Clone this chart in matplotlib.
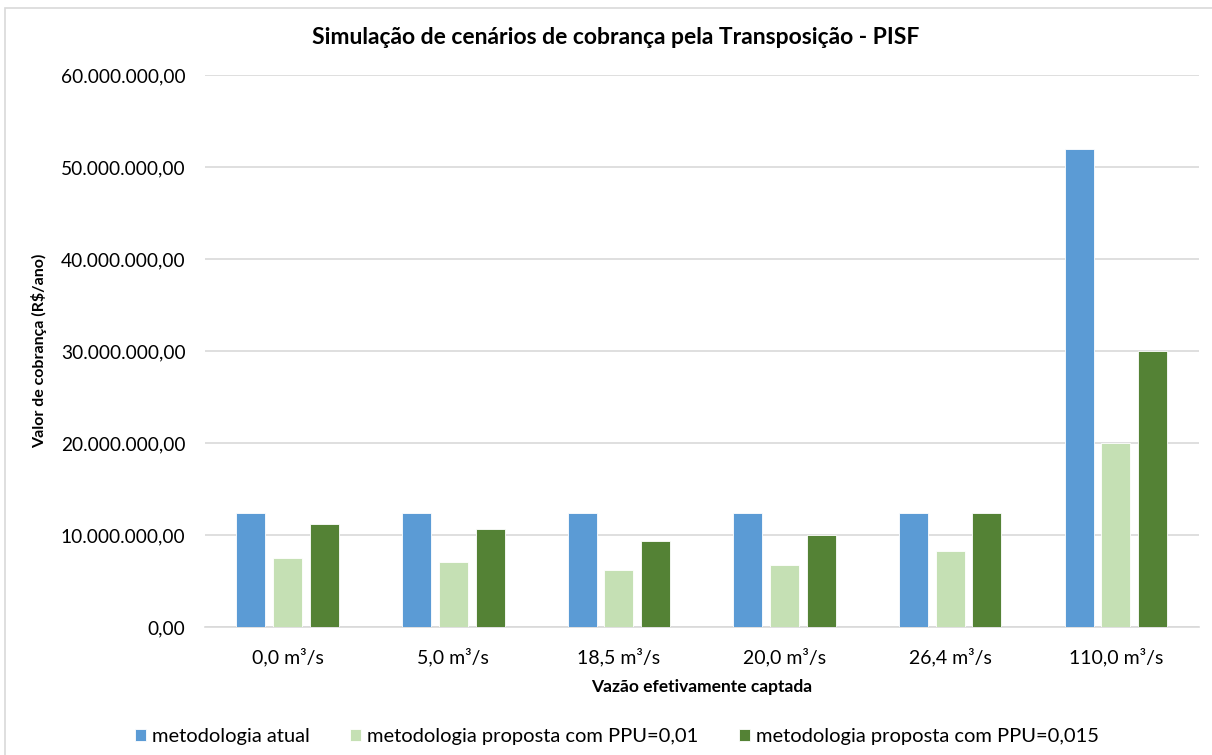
import numpy as np
import matplotlib.pyplot as plt
from matplotlib.ticker import FuncFormatter
from matplotlib.patches import Rectangle

categories = ["0,0 m³/s", "5,0 m³/s", "18,5 m³/s", "20,0 m³/s", "26,4 m³/s", "110,0 m³/s"]
atual = [12.4e6, 12.4e6, 12.4e6, 12.4e6, 12.4e6, 51.9e6]
ppu_001 = [7.45e6, 7.1e6, 6.25e6, 6.7e6, 8.3e6, 20.0e6]
ppu_0015 = [11.25e6, 10.7e6, 9.4e6, 10.05e6, 12.4e6, 30.0e6]
series_names = ["metodologia atual",
                "metodologia proposta com PPU=0,01",
                "metodologia proposta com PPU=0,015"]
colors = ["#5B9BD5", "#C5E0B4", "#548235"]

plt.rcParams['font.family'] = ['Lato', 'DejaVu Sans']


def br_fmt(v, pos):
    s = f"{v:,.2f}"
    return s.replace(",", "X").replace(".", ",").replace("X", ".")


fig = plt.figure(figsize=(12.12, 7.55), dpi=100)
ax = fig.add_axes([0.169, 0.1695, 0.82, 0.7312])

x = np.arange(len(categories))
w = 0.175
step = 0.222
for i, (vals, name) in enumerate(zip([atual, ppu_001, ppu_0015], series_names)):
    ax.bar(x + (i - 1) * step, vals, width=w, color=colors[i], label=name,
           edgecolor='white', linewidth=0.6, zorder=3)

ax.set_xlim(-0.5, len(categories) - 0.5)
ax.set_ylim(0, 60e6)
ax.set_yticks(np.arange(0, 60e6 + 1, 10e6))
ax.yaxis.set_major_formatter(FuncFormatter(br_fmt))
ax.grid(axis='y', color='#d9d9d9', linewidth=1.2, zorder=0)
ax.set_xticks(x)
ax.set_xticklabels(categories)
ax.tick_params(axis='both', length=0, colors='#000000')
ax.tick_params(axis='x', pad=15, labelsize=14)
ax.tick_params(axis='y', pad=14, labelsize=13.8)
for s in ['top', 'right', 'left']:
    ax.spines[s].set_visible(False)
ax.spines['bottom'].set_color('#d9d9d9')
ax.spines['bottom'].set_linewidth(1.2)

ax.set_xlabel("Vazão efetivamente captada", fontsize=12.5, fontweight='bold', labelpad=9)
ax.set_ylabel("Valor de cobrança (R$/ano)", fontsize=11.5, fontweight='bold')
ax.yaxis.set_label_coords(-0.159, 0.5)

fig.text(0.508, 0.95, "Simulação de cenários de cobrança pela Transposição - PISF",
         ha='center', va='center', fontsize=16.5, fontweight='bold')

fig.legend(loc='center', bbox_to_anchor=(0.509, 0.024), ncol=3, frameon=False,
           fontsize=14.5, handlelength=0.55, handleheight=0.55, columnspacing=2.0,
           handletextpad=0.3)

fig.patches.append(Rectangle((0.004, -0.01), 1.0, 1.0, transform=fig.transFigure,
                             fill=False, edgecolor='#d9d9d9', linewidth=1.2))

fig.savefig("out.png", dpi=100)
